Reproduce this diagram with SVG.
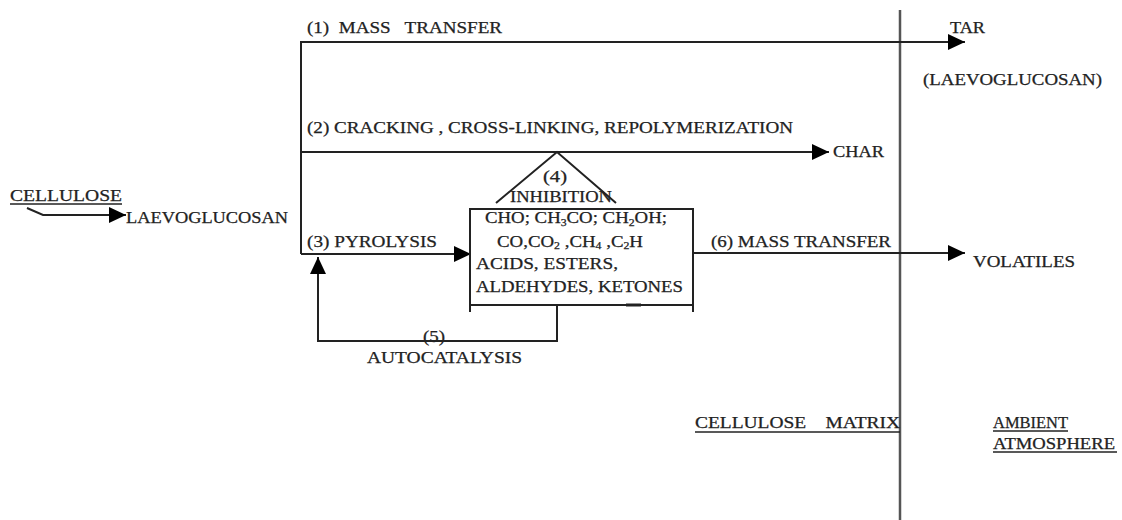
<svg xmlns="http://www.w3.org/2000/svg" width="1122" height="520" viewBox="0 0 1122 520">
<defs>
<marker id="ah" markerWidth="17" markerHeight="16" refX="17" refY="8" orient="auto" markerUnits="userSpaceOnUse">
<path d="M0,0 L17,8 L0,16 Z" fill="#000"/>
</marker>
<style>
text{font-family:"Liberation Serif","Times New Roman",serif;font-size:16px;fill:#222;stroke:#222;stroke-width:0.25}
.l{stroke:#222;stroke-width:2;fill:none}
.g{stroke:#555;stroke-width:2.5;fill:none}
.ul{stroke:#222;stroke-width:1.4}
</style>
</defs>
<rect width="1122" height="520" fill="#fff"/>
<g id="connectors">
<line class="g" x1="900" y1="10" x2="900" y2="520"/>
<polyline class="l" points="301,254 301,42 965,42" marker-end="url(#ah)"/>
<line class="l" x1="301" y1="152" x2="829" y2="152" marker-end="url(#ah)"/>
<line class="l" x1="301" y1="254" x2="471" y2="254" marker-end="url(#ah)"/>
<line class="l" x1="693" y1="253" x2="965" y2="253" marker-end="url(#ah)"/>
<polyline class="l" points="557,305 557,341 318,341 318,257" marker-end="url(#ah)"/>
<polyline class="l" points="27,208 43,215 126,215" marker-end="url(#ah)"/>
<polyline class="l" points="496,203 557,152 616,203"/>
</g>
<g id="box">
<rect class="l" x="470" y="209" width="223" height="96"/>
<line class="l" x1="470" y1="305" x2="470" y2="312"/>
<line class="l" x1="693" y1="305" x2="693" y2="312"/>
<line x1="626" y1="305" x2="641" y2="305" stroke="#222" stroke-width="3"/>
<text x="485" y="223" textLength="182" lengthAdjust="spacingAndGlyphs">CHO; CH<tspan font-size="10" dy="3">3</tspan><tspan dy="-3">CO; CH</tspan><tspan font-size="10" dy="3">2</tspan><tspan dy="-3">OH;</tspan></text>
<text x="497" y="247" textLength="146" lengthAdjust="spacingAndGlyphs">CO,CO<tspan font-size="10" dy="2">2</tspan><tspan dy="-2"> ,CH</tspan><tspan font-size="10" dy="2">4</tspan><tspan dy="-2"> ,C</tspan><tspan font-size="10" dy="2">2</tspan><tspan dy="-2">H</tspan></text>
<text x="476" y="269" textLength="142" lengthAdjust="spacingAndGlyphs">ACIDS, ESTERS,</text>
<text x="476" y="292" textLength="207" lengthAdjust="spacingAndGlyphs">ALDEHYDES, KETONES</text>
</g>
<g id="inhibition">
<text x="543" y="182" textLength="24" lengthAdjust="spacingAndGlyphs">(4)</text>
<text x="510" y="202" textLength="102" lengthAdjust="spacingAndGlyphs">INHIBITION</text>
</g>
<g id="labels">
<text x="307" y="33" textLength="195" lengthAdjust="spacingAndGlyphs" xml:space="preserve">(1)  MASS   TRANSFER</text>
<text x="307" y="133" textLength="486" lengthAdjust="spacingAndGlyphs">(2) CRACKING , CROSS-LINKING, REPOLYMERIZATION</text>
<text x="307" y="247" textLength="130" lengthAdjust="spacingAndGlyphs">(3) PYROLYSIS</text>
<text x="711" y="247" textLength="180" lengthAdjust="spacingAndGlyphs">(6) MASS TRANSFER</text>
<text x="423" y="342" textLength="22" lengthAdjust="spacingAndGlyphs">(5)</text>
<text x="367" y="363" textLength="155" lengthAdjust="spacingAndGlyphs">AUTOCATALYSIS</text>
</g>
<g id="cellulose">
<text x="10" y="201" textLength="112" lengthAdjust="spacingAndGlyphs">CELLULOSE</text>
<line class="ul" x1="10" y1="204" x2="122" y2="204"/>
</g>
<g id="laevoglucosan"><text x="126" y="223" textLength="162" lengthAdjust="spacingAndGlyphs">LAEVOGLUCOSAN</text></g>
<g id="tar">
<text x="950" y="33" textLength="35" lengthAdjust="spacingAndGlyphs">TAR</text>
<text x="923" y="85" textLength="179" lengthAdjust="spacingAndGlyphs">(LAEVOGLUCOSAN)</text>
</g>
<g id="char"><text x="833" y="157" textLength="51" lengthAdjust="spacingAndGlyphs">CHAR</text></g>
<g id="volatiles"><text x="973" y="267" textLength="102" lengthAdjust="spacingAndGlyphs">VOLATILES</text></g>
<g id="matrix">
<text x="695" y="428" textLength="205" lengthAdjust="spacingAndGlyphs" xml:space="preserve">CELLULOSE    MATRIX</text>
<line class="ul" x1="695" y1="432" x2="900" y2="432"/>
</g>
<g id="ambient">
<text x="993" y="428" textLength="75" lengthAdjust="spacingAndGlyphs">AMBIENT</text>
<line class="ul" x1="993" y1="431" x2="1068" y2="431"/>
<text x="993" y="449" textLength="122" lengthAdjust="spacingAndGlyphs">ATMOSPHERE</text>
<line class="ul" x1="993" y1="452" x2="1117" y2="452"/>
</g>
</svg>
